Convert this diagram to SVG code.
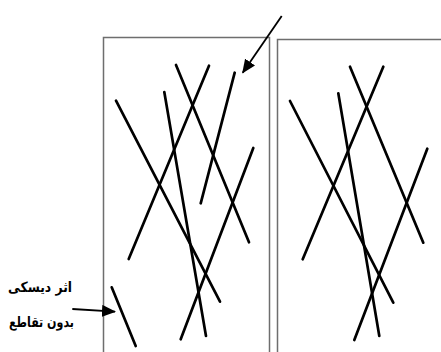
<svg xmlns="http://www.w3.org/2000/svg" width="441" height="352" viewBox="0 0 441 352">
<style>
.box{fill:none;stroke:#6e6e6e;stroke-width:1.5}
.ln{stroke:#000;stroke-width:2.7;stroke-linecap:round}
.ar{stroke:#000;stroke-width:1.8;fill:none}
.lbl{font-family:"DejaVu Sans","Liberation Serif",serif;font-weight:bold;font-size:14px;fill:#000}
</style>
<defs>
<marker id="ah2" markerWidth="14" markerHeight="12" refX="13" refY="6" orient="auto" markerUnits="userSpaceOnUse">
<path d="M0,0 L14,6 L0,12 Z" fill="#000"/>
</marker>
</defs>
<g id="left-sample">
<rect class="box" x="103.5" y="37.5" width="166" height="330"/>
<line class="ln" x1="116" y1="100.7" x2="220" y2="301.7"/>
<line class="ln" x1="176" y1="65" x2="249" y2="242.3"/>
<line class="ln" x1="209" y1="65.7" x2="128.7" y2="259"/>
<line class="ln" x1="164.3" y1="92" x2="206" y2="336"/>
<line class="ln" x1="234.7" y1="72.7" x2="200.7" y2="203.3"/>
<line class="ln" x1="253.3" y1="148" x2="180.7" y2="339.3"/>
<line class="ln" x1="111.7" y1="287.3" x2="135.7" y2="346"/>
</g>
<g id="right-sample">
<rect class="box" x="277.5" y="39.5" width="180" height="330"/>
<line class="ln" x1="290" y1="101" x2="393.3" y2="302.7"/>
<line class="ln" x1="350" y1="66.7" x2="423.3" y2="242.7"/>
<line class="ln" x1="383.3" y1="66.7" x2="302.7" y2="259.3"/>
<line class="ln" x1="338.3" y1="93.3" x2="379.3" y2="336"/>
<line class="ln" x1="427.3" y1="148.7" x2="354.3" y2="340"/>
</g>
<g id="label">
<text class="lbl" x="8" y="292" textLength="64" lengthAdjust="spacingAndGlyphs">اثر دیسکی</text>
<text class="lbl" x="9" y="327" textLength="65" lengthAdjust="spacingAndGlyphs">بدون تقاطع</text>
</g>
<g id="connectors">
<line class="ar" x1="281.7" y1="16" x2="242.7" y2="72.7" marker-end="url(#ah2)"/>
<line class="ar" x1="72.3" y1="309" x2="115" y2="311.7" marker-end="url(#ah2)"/>
</g>
</svg>
